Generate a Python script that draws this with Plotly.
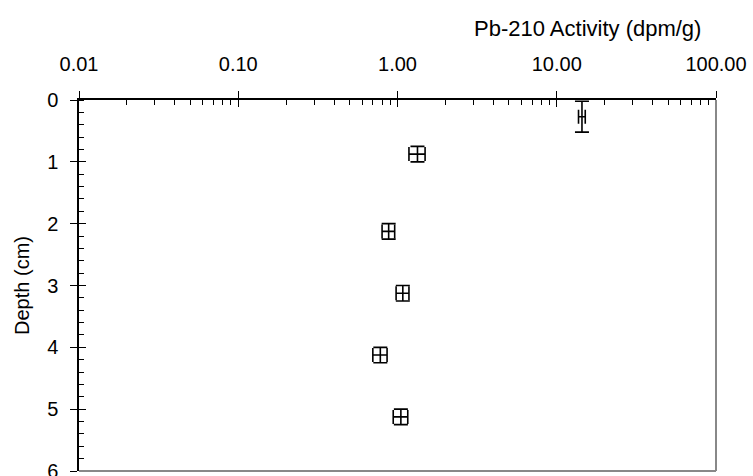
import plotly.graph_objects as go

activity = [14.4, 1.335, 0.88, 1.08, 0.78, 1.05]
activity_err = [0.7, 0.155, 0.08, 0.10, 0.08, 0.11]
depth = [0.27, 0.875, 2.125, 3.125, 4.125, 5.125]
depth_err = [0.25, 0.125, 0.125, 0.125, 0.125, 0.125]

x_tickvals = [0.01, 0.1, 1, 10, 100]
x_ticktext = ["0.01", "0.10", "1.00", "10.00", "100.00"]
x_minor = [m * 10 ** k for k in range(-2, 2) for m in range(2, 10)]
y_tickvals = [0, 1, 2, 3, 4, 5, 6]

FONT = "Liberation Sans, Arial, sans-serif"

fig = go.Figure()
fig.add_trace(go.Scatter(
    x=activity, y=depth, mode="markers",
    marker=dict(size=1, color="rgba(0,0,0,0)"),
    error_x=dict(type="data", array=activity_err, color="black", thickness=1.6, width=7),
    error_y=dict(type="data", array=depth_err, color="black", thickness=1.6, width=7),
    showlegend=False, cliponaxis=False,
))
fig.add_trace(go.Scatter(x=[], y=[], xaxis="x2", yaxis="y2", showlegend=False))

fig.update_layout(
    width=753, height=476,
    margin=dict(l=79, r=37, t=100, b=5),
    paper_bgcolor="white", plot_bgcolor="white",
    font=dict(family=FONT, size=20, color="black"),
    xaxis=dict(
        type="log", range=[-2, 2], side="top", automargin=False,
        tickmode="array", tickvals=x_tickvals, ticktext=x_ticktext,
        ticks="outside", ticklen=7, tickwidth=1.3, tickcolor="black",
        ticklabelstandoff=12, ticklabeloverflow="allow",
        showline=True, linecolor="black", linewidth=1.5,
        showgrid=False, zeroline=False,
        minor=dict(tickmode="array", tickvals=x_minor, ticks="inside", ticklen=5,
                   tickwidth=1.2, tickcolor="black", showgrid=False),
        anchor="y",
    ),
    xaxis2=dict(
        type="log", matches="x", overlaying="x", side="top", anchor="y2", automargin=False,
        tickmode="array", tickvals=x_tickvals, showticklabels=False,
        ticks="inside", ticklen=7, tickwidth=1.3, tickcolor="black",
        showline=False, showgrid=False, zeroline=False,
    ),
    yaxis=dict(
        range=[6, 0], tickmode="array", tickvals=y_tickvals, automargin=False,
        ticks="outside", ticklen=7, tickwidth=1.3, tickcolor="black",
        ticklabelstandoff=8, ticklabeloverflow="allow",
        showline=True, linecolor="black", linewidth=1.5,
        showgrid=False, zeroline=False,
        minor=dict(dtick=0.2, ticks="inside", ticklen=5, tickwidth=1.2,
                   tickcolor="black", showgrid=False),
        title=dict(text="Depth (cm)", font=dict(size=20), standoff=12),
        anchor="x",
    ),
    yaxis2=dict(
        matches="y", overlaying="y", side="left", anchor="x2", automargin=False,
        tickmode="array", tickvals=y_tickvals, showticklabels=False,
        ticks="inside", ticklen=7, tickwidth=1.3, tickcolor="black",
        showline=False, showgrid=False, zeroline=False,
    ),
    annotations=[
        dict(text="Pb-210 Activity (dpm/g)", xref="paper", yref="paper",
             x=(587 - 79) / 637, y=(471 - 28.5) / 371, xanchor="center", yanchor="middle",
             showarrow=False, font=dict(size=22, family=FONT, color="black")),
    ],
    shapes=[
        dict(type="line", xref="paper", yref="paper", x0=1, x1=1, y0=0, y1=1,
             line=dict(color="#888888", width=2)),
        dict(type="line", xref="paper", yref="paper", x0=0, x1=1, y0=0, y1=0,
             line=dict(color="#888888", width=2)),
    ],
)

fig.write_html("out.html")
